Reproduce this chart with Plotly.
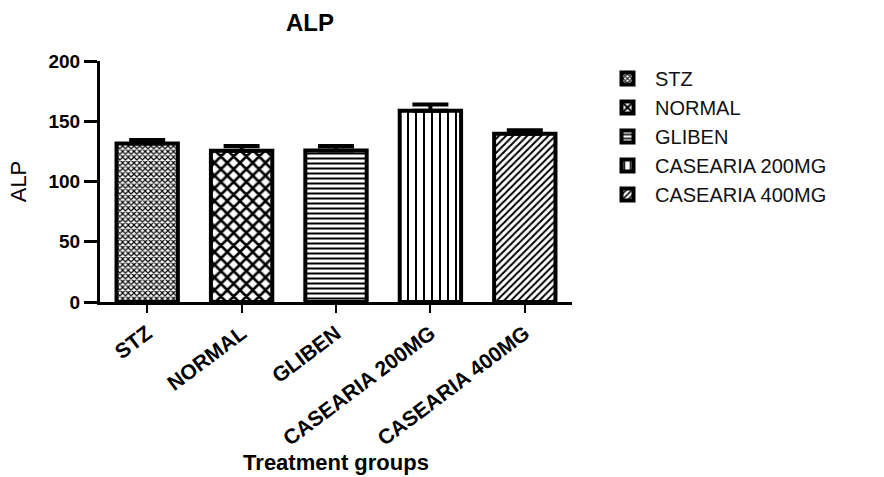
import plotly.graph_objects as go

# ALP by treatment group (mean with upper SEM)
groups = ["STZ", "NORMAL", "GLIBEN", "CASEARIA 200MG", "CASEARIA 400MG"]
alp_mean = [131.5, 125.5, 125.7, 158.8, 139.6]
alp_sem = [3.0, 4.0, 3.8, 5.0, 3.0]
y_ticks = [0, 50, 100, 150, 200]

# fill pattern of each group: (shape, size, solidity)
patterns = [
    ("x", 4, 0.5),
    ("x", 9, 0.5),
    ("-", 5, 0.4),
    ("|", 8, 0.25),
    ("/", 5, 0.4),
]

FONT = "Liberation Sans, Arial, sans-serif"

fig = go.Figure()
for name, mean, sem, (shape, size, solid) in zip(groups, alp_mean, alp_sem, patterns):
    fig.add_trace(go.Bar(
        x=[name],
        y=[mean],
        name=name,
        width=0.65,
        marker=dict(
            color="white",
            line=dict(color="black", width=4),
            pattern=dict(shape=shape, size=size, solidity=solid,
                         fgcolor="black", fgopacity=1, bgcolor="white",
                         fillmode="replace"),
        ),
        error_y=dict(type="data", array=[sem], arrayminus=[0], symmetric=False,
                     color="black", thickness=4, width=18),
    ))

fig.update_layout(
    width=884,
    height=477,
    margin=dict(l=100, r=312, t=61, b=175, autoexpand=False),
    paper_bgcolor="white",
    plot_bgcolor="white",
    barmode="overlay",
    font=dict(family=FONT, color="black"),
    title=dict(text="ALP", font=dict(family=FONT, size=24, weight="bold", color="black"),
               x=0.3507, xref="container", xanchor="center",
               y=1 - 23 / 477, yref="container", yanchor="middle"),
    legend=dict(
        x=600 / 884, xref="container", xanchor="left",
        y=1 - 59 / 477, yref="container", yanchor="top",
        font=dict(family=FONT, size=20, color="#111111"),
        itemwidth=45,
        bgcolor="rgba(0,0,0,0)",
    ),
    showlegend=True,
)

fig.update_xaxes(
    range=[-0.5, 4.5],
    automargin=False,
    showline=True, linecolor="black", linewidth=3,
    ticks="outside", ticklen=8, tickwidth=2, tickcolor="black",
    tickangle=-37,
    tickfont=dict(family=FONT, size=21, weight="bold", color="black"),
    showgrid=False, zeroline=False,
    title=dict(text="Treatment groups", standoff=0,
               font=dict(family=FONT, size=22, weight="bold", color="black")),
)

fig.update_yaxes(
    range=[0, 200],
    automargin=False,
    tickvals=y_ticks,
    showline=True, linecolor="black", linewidth=3,
    ticks="outside", ticklen=13, tickwidth=2.5, tickcolor="black",
    tickfont=dict(family=FONT, size=19, weight="bold", color="black"),
    showgrid=False, zeroline=False,
    title=dict(text="ALP", standoff=16,
               font=dict(family=FONT, size=22, color="black")),
)

fig.write_html("out.html")
